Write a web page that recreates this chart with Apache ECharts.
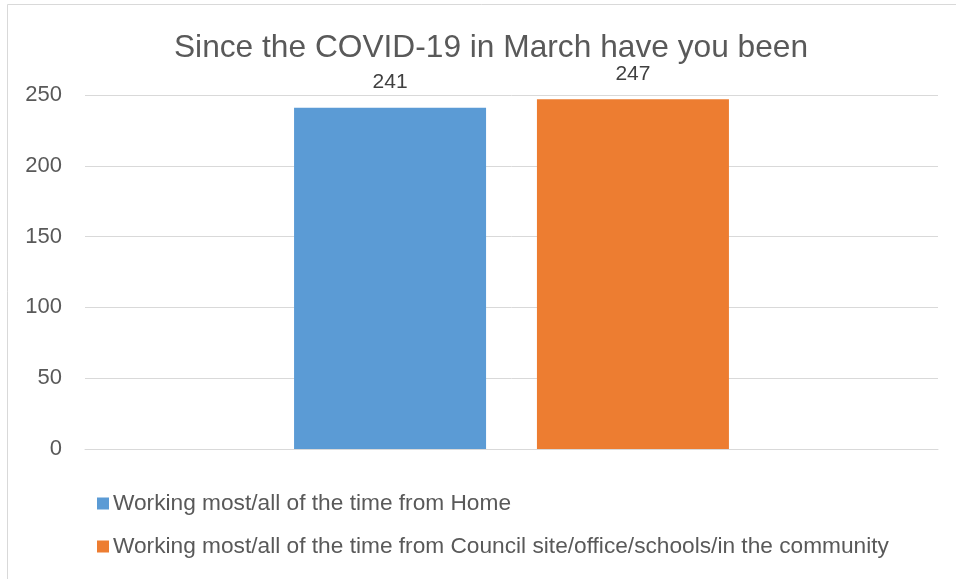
<!DOCTYPE html>
<html>
<head>
<meta charset="utf-8">
<script src="https://cdn.jsdelivr.net/npm/echarts@6/dist/echarts.min.js"></script>
<style>
html,body{margin:0;padding:0;background:#fff;}
#chart{width:956px;height:579px;}
</style>
</head>
<body>
<div id="chart"></div>
<script>
const titleText = "Since the COVID-19 in March have you been";
const categories = [""];
const seriesNames = [
  "Working most/all of the time from Home",
  "Working most/all of the time from Council site/office/schools/in the community"
];
const homeValues = [241];
const councilValues = [247];
const yTicks = { min: 0, max: 250, interval: 50 };
const colors = ["#5B9BD5", "#ED7D31"];

const chart = echarts.init(document.getElementById('chart'), null, { renderer: 'canvas' });
const baseFont = "Liberation Sans, Arial, sans-serif";
const labelFont = { fontFamily: baseFont, fontSize: 21, color: "#404040" };
chart.setOption({
  animation: false,
  backgroundColor: "#fff",
  title: {
    text: titleText,
    left: 486, top: 27,
    textAlign: 'center',
    textStyle: { fontFamily: baseFont, fontSize: 31.7, fontWeight: 'normal', color: "#595959" }
  },
  graphic: [
    { type: 'line', shape: { x1: 7.5, y1: 4.5, x2: 7.5, y2: 579 }, style: { stroke: '#D9D9D9', lineWidth: 1 } },
    { type: 'line', shape: { x1: 7.5, y1: 4.5, x2: 956, y2: 4.5 }, style: { stroke: '#D9D9D9', lineWidth: 1 } }
  ],
  legend: {
    orient: 'vertical',
    left: 92, top: 487,
    itemWidth: 12, itemHeight: 12, itemGap: 20,
    icon: 'rect',
    textStyle: { fontFamily: baseFont, fontSize: 22.7, color: "#595959", padding: [0, 0, 0, -1] },
    data: seriesNames
  },
  grid: { left: 85, right: 18, top: 95, bottom: 130, containLabel: false },
  xAxis: {
    type: 'category',
    data: categories,
    axisLine: { lineStyle: { color: '#D9D9D9', width: 1 } },
    axisTick: { show: false },
    axisLabel: { show: false }
  },
  yAxis: {
    type: 'value',
    min: yTicks.min, max: yTicks.max, interval: yTicks.interval,
    axisLine: { show: false },
    axisTick: { show: false },
    axisLabel: { margin: 23, fontFamily: baseFont, fontSize: 22, color: "#595959" },
    splitLine: { lineStyle: { color: '#D9D9D9', width: 1 } }
  },
  series: [
    {
      name: seriesNames[0], type: 'bar', data: homeValues,
      barWidth: 192, barGap: '26.5%',
      itemStyle: { color: colors[0] },
      label: { show: true, position: 'top', distance: 15, ...labelFont }
    },
    {
      name: seriesNames[1], type: 'bar', data: councilValues,
      barWidth: 192,
      itemStyle: { color: colors[1] },
      label: { show: true, position: 'top', distance: 15, ...labelFont }
    }
  ]
});
</script>
</body>
</html>
